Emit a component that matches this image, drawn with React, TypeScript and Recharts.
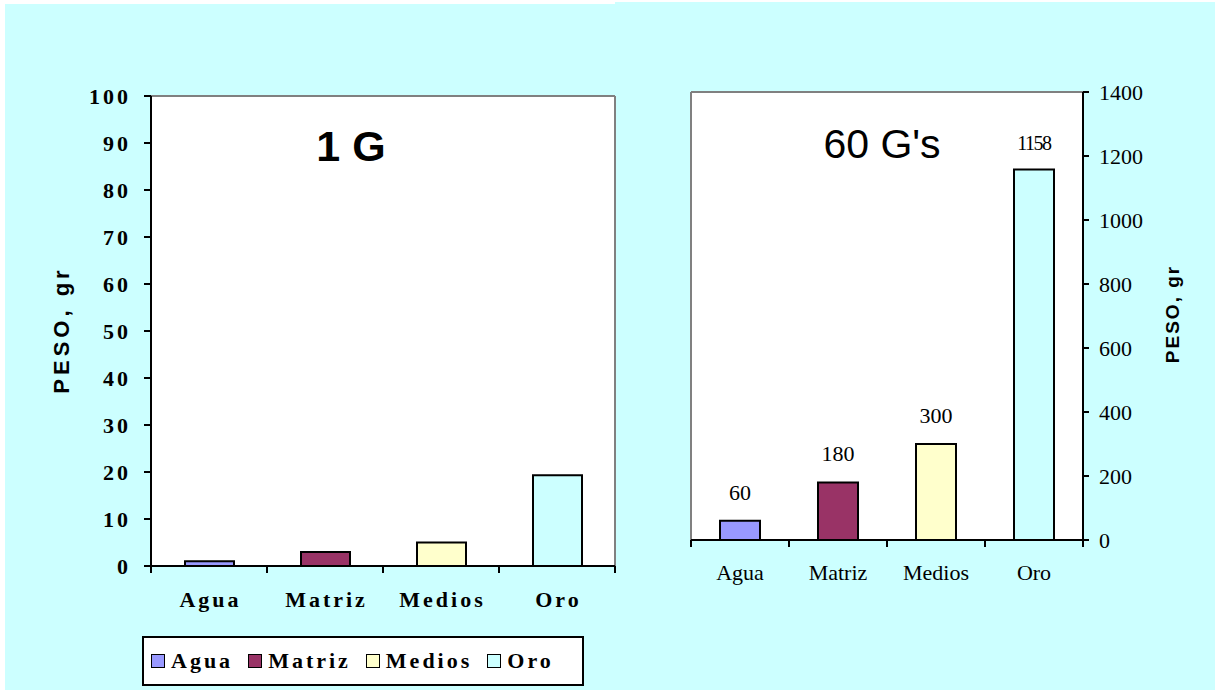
import React from 'react';
import { BarChart, Bar, XAxis, YAxis, CartesianGrid, Cell, LabelList } from 'recharts';

const categories = ['Agua', 'Matriz', 'Medios', 'Oro'];
const values1G = [1, 3, 5, 19.3];
const values60G = [60, 180, 300, 1158];
const colors = ['#9999FF', '#993366', '#FFFFCC', '#CCFFFF'];
const leftTicks = [0, 10, 20, 30, 40, 50, 60, 70, 80, 90, 100];
const rightTicks = [0, 200, 400, 600, 800, 1000, 1200, 1400];

const data1G = categories.map((name, i) => ({ name, value: values1G[i] }));
const data60G = categories.map((name, i) => ({ name, value: values60G[i] }));

const SERIF = '"Liberation Serif", "Times New Roman", serif';
const SANS = '"Liberation Sans", Arial, sans-serif';
const CYAN = '#CCFFFF';
const GRAY = '#808080';

// Category tick: label at band centre, tick marks at band boundaries (Excel style)
const makeCatTick = (bold: boolean, labelGap: number) => (props: any) => {
  const { x, y, payload, index } = props;
  const half = payload && payload.offset ? Number(payload.offset) : 0;
  const last = index === categories.length - 1;
  return (
    <g>
      <line x1={x - half} x2={x - half} y1={y} y2={y + 7} stroke="#000" strokeWidth={2} />
      {last && <line x1={x + half} x2={x + half} y1={y} y2={y + 7} stroke="#000" strokeWidth={2} />}
      <text
        x={bold ? x + 1.5 : x}
        y={y + labelGap}
        dy="0.71em"
        textAnchor="middle"
        fontFamily={SERIF}
        fontSize={22}
        fontWeight={bold ? 'bold' : 'normal'}
        letterSpacing={bold ? 3 : 0}
        fill="#000"
      >
        {payload.value}
      </text>
    </g>
  );
};

const leftCatTick = makeCatTick(true, 25);
const rightCatTick = makeCatTick(false, 24);

const ValueLabel = (props: any) => {
  const { x, y, width, value } = props;
  const big = Number(value) >= 1000;
  return (
    <text
      x={Number(x) + Number(width) / 2}
      y={Number(y) - (big ? 19 : 21)}
      textAnchor="middle"
      fontFamily={SERIF}
      fontSize={big ? 20 : 22}
      letterSpacing={big ? -1.5 : 0}
      fill="#000"
    >
      {value}
    </text>
  );
};

export default function App() {
  return (
    <div style={{ position: 'absolute', left: 0, top: 0, width: 1215, height: 690, background: '#fff', overflow: 'hidden' }}>
      <div style={{ position: 'absolute', left: 5, top: 4, width: 610, height: 686, background: CYAN }} />
      <div style={{ position: 'absolute', left: 615, top: 2, width: 600, height: 688, background: CYAN }} />

      {/* Left chart: 1 G */}
      <div style={{ position: 'absolute', left: 0, top: 0 }}>
        <BarChart width={617} height={690} data={data1G} margin={{ top: 95, right: 1, left: 0, bottom: 84 }}>
          <CartesianGrid fill="#fff" horizontal={false} vertical={false} xAxisId="cat" yAxisId="l" />
          <XAxis xAxisId="top" orientation="top" height={1} type="number" domain={[0, 1]} allowDataOverflow
            tick={false} tickLine={false} axisLine={{ stroke: GRAY, strokeWidth: 2 }} />
          <YAxis yAxisId="r" orientation="right" width={1} type="number" domain={[0, 1]} allowDataOverflow
            tick={false} tickLine={false} axisLine={{ stroke: GRAY, strokeWidth: 2 }} />
          <XAxis xAxisId="cat" dataKey="name" height={40} axisLine={{ stroke: '#000', strokeWidth: 2 }} tickLine={false}
            tickSize={0} tickMargin={0} interval={0} tick={leftCatTick} />
          <YAxis yAxisId="l" width={151} domain={[0, 100]} ticks={leftTicks} interval={0} tickSize={7} tickMargin={13}
            axisLine={{ stroke: '#000', strokeWidth: 2 }} tickLine={{ stroke: '#000', strokeWidth: 2 }}
            tick={{ fontFamily: SERIF, fontSize: 22, fontWeight: 'bold', fill: '#000', letterSpacing: 3 }} />
          <Bar xAxisId="cat" yAxisId="l" dataKey="value" barSize={49} stroke="#000" strokeWidth={2} isAnimationActive={false}>
            {data1G.map((d, i) => (
              <Cell key={d.name} fill={colors[i]} />
            ))}
          </Bar>
        </BarChart>
      </div>

      {/* Right chart: 60 G's */}
      <div style={{ position: 'absolute', left: 615, top: 0 }}>
        <BarChart width={600} height={690} data={data60G} margin={{ top: 91, right: 52, left: 75, bottom: 110 }}>
          <CartesianGrid fill="#fff" horizontal={false} vertical={false} xAxisId="cat" yAxisId="r" />
          <XAxis xAxisId="top" orientation="top" height={1} type="number" domain={[0, 1]} allowDataOverflow
            tick={false} tickLine={false} axisLine={{ stroke: GRAY, strokeWidth: 2 }} />
          <YAxis yAxisId="lb" orientation="left" width={1} type="number" domain={[0, 1]} allowDataOverflow
            tick={false} tickLine={false} axisLine={{ stroke: GRAY, strokeWidth: 2 }} />
          <XAxis xAxisId="cat" dataKey="name" height={40} axisLine={{ stroke: '#000', strokeWidth: 2 }} tickLine={false}
            tickSize={0} tickMargin={0} interval={0} tick={rightCatTick} />
          <YAxis yAxisId="r" orientation="right" width={80} domain={[0, 1400]} ticks={rightTicks} interval={0}
            tickSize={6} tickMargin={10}
            axisLine={{ stroke: '#000', strokeWidth: 2 }} tickLine={{ stroke: '#000', strokeWidth: 2 }}
            tick={{ fontFamily: SERIF, fontSize: 22, fill: '#000', textAnchor: 'start' }} />
          <Bar xAxisId="cat" yAxisId="r" dataKey="value" barSize={40} stroke="#000" strokeWidth={2} isAnimationActive={false}>
            {data60G.map((d, i) => (
              <Cell key={d.name} fill={colors[i]} />
            ))}
            <LabelList dataKey="value" content={ValueLabel} />
          </Bar>
        </BarChart>
      </div>

      {/* Titles and axis titles */}
      <svg width={1215} height={690} style={{ position: 'absolute', left: 0, top: 0, pointerEvents: 'none' }}>
        <text x={351} y={161} textAnchor="middle" fontFamily={SANS} fontWeight="bold" fontSize={43} fill="#000">1 G</text>
        <text x={882} y={158} textAnchor="middle" fontFamily={SANS} fontSize={41} fill="#000">60 G's</text>
        <text transform="translate(69,330) rotate(-90)" textAnchor="middle" fontFamily={SANS} fontWeight="bold"
          fontSize={22} letterSpacing={4} fill="#000">PESO, gr</text>
        <text transform="translate(1179,314) rotate(-90)" textAnchor="middle" fontFamily={SANS} fontWeight="bold"
          fontSize={19} letterSpacing={2} fill="#000">PESO, gr</text>
      </svg>

      {/* Legend */}
      <div style={{
        position: 'absolute', left: 142, top: 636, width: 431, height: 46, border: '2px solid #000', background: '#fff',
        display: 'flex', alignItems: 'center', paddingLeft: 7, boxSizing: 'content-box',
      }}>
        {categories.map((name, i) => (
          <div key={name} style={{ display: 'flex', alignItems: 'center', marginRight: 15 }}>
            <div style={{ width: 12, height: 12, background: colors[i], border: '1.5px solid #000', marginRight: 6 }} />
            <span style={{ fontFamily: SERIF, fontWeight: 'bold', fontSize: 22, letterSpacing: 3, color: '#000', lineHeight: '22px' }}>
              {name}
            </span>
          </div>
        ))}
      </div>
    </div>
  );
}
